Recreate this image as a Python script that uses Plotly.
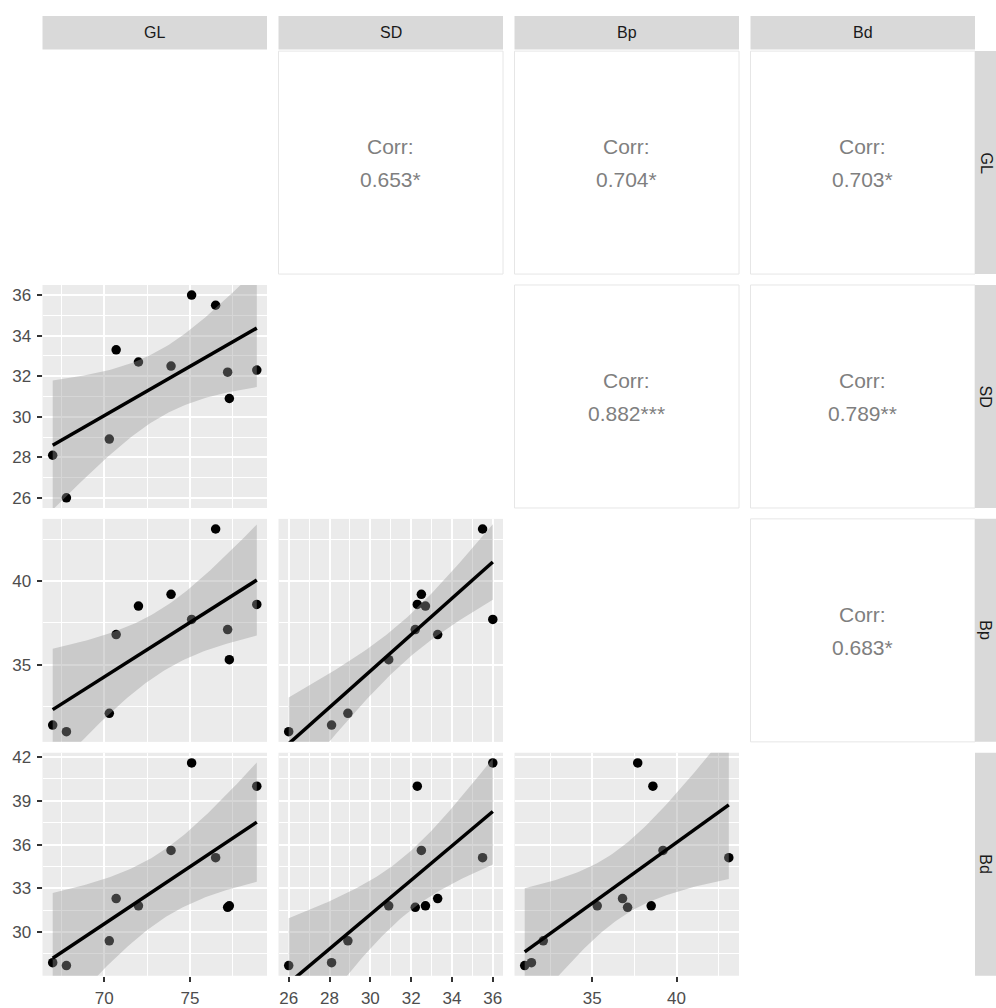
import numpy as np
import plotly.graph_objects as go

# ---- data -------------------------------------------------------------
VARS = ["GL", "SD", "Bp", "Bd"]
GL = [67.0, 67.8, 70.3, 70.7, 72.0, 73.9, 75.1, 76.5, 77.2, 77.3, 78.9]
SD = [28.1, 26.0, 28.9, 33.3, 32.7, 32.5, 36.0, 35.5, 32.2, 30.9, 32.3]
Bp = [31.4, 31.0, 32.1, 36.8, 38.5, 39.2, 37.7, 43.1, 37.1, 35.3, 38.6]
Bd = [27.9, 27.7, 29.4, 32.3, 31.8, 35.6, 41.6, 35.1, 31.7, 31.8, 40.0]
DATA = {"GL": GL, "SD": SD, "Bp": Bp, "Bd": Bd}

# reported pairwise correlations (upper triangle, row-major)
CORR_PAIRS = [("GL", "SD"), ("GL", "Bp"), ("GL", "Bd"),
              ("SD", "Bp"), ("SD", "Bd"), ("Bp", "Bd")]
CORR_TEXT = ["0.653*", "0.704*", "0.703*", "0.882***", "0.789**", "0.683*"]
CORR = dict(zip(CORR_PAIRS, CORR_TEXT))

# major break spacing per variable
MAJOR_STEP = {"GL": 5, "SD": 2, "Bp": 5, "Bd": 3}

# t quantile for a 95% band, df = n - 2 = 9
T_CI95 = 2.262157

# ---- page geometry (pixels) -------------------------------------------
W, H = 996, 1008
COL_X0 = [42.5, 278.5, 514.5, 750.5]
ROW_Y0 = [46.5, 282.5, 518.5, 754.5]
PW, PH = 224.5, 225.0
STRIP_TOP = (11.0, 45.0)
STRIP_RIGHT = (975.0, 1009.0)
RIGHT_LABEL_X = 986.0

FONT = "Liberation Sans, Arial, Helvetica, sans-serif"
PANEL_BG = "#EBEBEB"
STRIP_BG = "#D9D9D9"


def px_x(x):
    return x / W


def px_y(y):
    return 1 - y / H


def expanded_range(vals):
    lo, hi = min(vals), max(vals)
    pad = 0.05 * (hi - lo)
    return [lo - pad, hi + pad]


fig = go.Figure()
layout = {}
shapes = []
annotations = []

k = 0
for i, yv in enumerate(VARS):
    for j, xv in enumerate(VARS):
        x0 = COL_X0[j]
        y0 = ROW_Y0[i]
        if i > j:
            k += 1
            xa = "x" if k == 1 else f"x{k}"
            ya = "y" if k == 1 else f"y{k}"
            xs = np.asarray(DATA[xv], dtype=float)
            ys = np.asarray(DATA[yv], dtype=float)

            # points (drawn first so the ribbon shades them)
            fig.add_trace(go.Scatter(
                x=xs, y=ys, mode="markers", xaxis=xa, yaxis=ya,
                marker=dict(color="black", size=9.5, line=dict(width=0)),
                showlegend=False, hoverinfo="skip"))

            # linear fit with 95% confidence band
            n = len(xs)
            b, a = np.polyfit(xs, ys, 1)
            resid = ys - (a + b * xs)
            s = np.sqrt(np.sum(resid ** 2) / (n - 2))
            xbar = xs.mean()
            sxx = np.sum((xs - xbar) ** 2)
            gx = np.linspace(xs.min(), xs.max(), 80)
            gy = a + b * gx
            se = s * np.sqrt(1 / n + (gx - xbar) ** 2 / sxx)
            up, lo = gy + T_CI95 * se, gy - T_CI95 * se
            fig.add_trace(go.Scatter(
                x=np.concatenate([gx, gx[::-1]]),
                y=np.concatenate([up, lo[::-1]]),
                xaxis=xa, yaxis=ya, mode="lines", fill="toself",
                fillcolor="rgba(153,153,153,0.4)", line=dict(width=0),
                showlegend=False, hoverinfo="skip"))
            fig.add_trace(go.Scatter(
                x=gx, y=gy, xaxis=xa, yaxis=ya, mode="lines",
                line=dict(color="black", width=3.5),
                showlegend=False, hoverinfo="skip"))

            bottom = i == len(VARS) - 1
            left = j == 0
            common = dict(
                showgrid=True, gridcolor="white", gridwidth=2,
                zeroline=False, showline=False,
                ticklen=5, tickwidth=1.5, tickcolor="#333333",
                ticklabelstandoff=2,
                tickfont=dict(family=FONT, size=17, color="#4D4D4D"),
            )
            layout["xaxis" if k == 1 else f"xaxis{k}"] = dict(
                common,
                domain=[px_x(x0), px_x(x0 + PW)],
                anchor=ya,
                range=expanded_range(xs),
                tick0=0, dtick=MAJOR_STEP[xv],
                minor=dict(tick0=0, dtick=MAJOR_STEP[xv] / 2, showgrid=True,
                           gridcolor="white", gridwidth=1, ticks=""),
                showticklabels=bottom,
                ticks="outside" if bottom else "",
            )
            layout["yaxis" if k == 1 else f"yaxis{k}"] = dict(
                common,
                domain=[px_y(y0 + PH), px_y(y0)],
                anchor=xa,
                range=expanded_range(ys),
                tick0=0, dtick=MAJOR_STEP[yv],
                minor=dict(tick0=0, dtick=MAJOR_STEP[yv] / 2, showgrid=True,
                           gridcolor="white", gridwidth=1, ticks=""),
                showticklabels=left,
                ticks="outside" if left else "",
            )
        elif j > i:
            # upper panels: correlation text in a bordered white box
            shapes.append(dict(
                type="rect", xref="paper", yref="paper",
                x0=px_x(x0), x1=px_x(x0 + PW),
                y0=px_y(y0 + PH), y1=px_y(y0),
                line=dict(color="#E6E6E6", width=1), fillcolor="white",
                layer="below"))
            cx = px_x(x0 + PW / 2)
            cy = y0 + PH / 2
            for text, dy in (("Corr:", -16), (CORR[(yv, xv)], 17)):
                annotations.append(dict(
                    xref="paper", yref="paper", x=cx, y=px_y(cy + dy),
                    text=text, showarrow=False,
                    font=dict(family=FONT, size=21, color="#7F7F7F"),
                    xanchor="center", yanchor="middle"))

# column strips
for j, v in enumerate(VARS):
    x0 = COL_X0[j]
    shapes.append(dict(
        type="rect", xref="paper", yref="paper",
        x0=px_x(x0), x1=px_x(x0 + PW),
        y0=px_y(STRIP_TOP[1]), y1=px_y(STRIP_TOP[0]),
        line=dict(width=0), fillcolor=STRIP_BG, layer="below"))
    annotations.append(dict(
        xref="paper", yref="paper",
        x=px_x(x0 + PW / 2), y=px_y(sum(STRIP_TOP) / 2),
        text=v, showarrow=False,
        font=dict(family=FONT, size=16, color="#1A1A1A"),
        xanchor="center", yanchor="middle"))

# row strips
for i, v in enumerate(VARS):
    y0 = ROW_Y0[i]
    shapes.append(dict(
        type="rect", xref="paper", yref="paper",
        x0=px_x(STRIP_RIGHT[0]), x1=px_x(STRIP_RIGHT[1]),
        y0=px_y(y0 + PH), y1=px_y(y0),
        line=dict(width=0), fillcolor=STRIP_BG, layer="below"))
    annotations.append(dict(
        xref="paper", yref="paper",
        x=px_x(RIGHT_LABEL_X), y=px_y(y0 + PH / 2),
        text=v, showarrow=False, textangle=90,
        font=dict(family=FONT, size=16, color="#1A1A1A"),
        xanchor="center", yanchor="middle"))

fig.update_layout(
    width=W, height=H,
    margin=dict(l=0, r=0, t=0, b=0),
    paper_bgcolor="white",
    plot_bgcolor=PANEL_BG,
    shapes=shapes,
    annotations=annotations,
    showlegend=False,
    **layout,
)

fig.write_html("out.html")
